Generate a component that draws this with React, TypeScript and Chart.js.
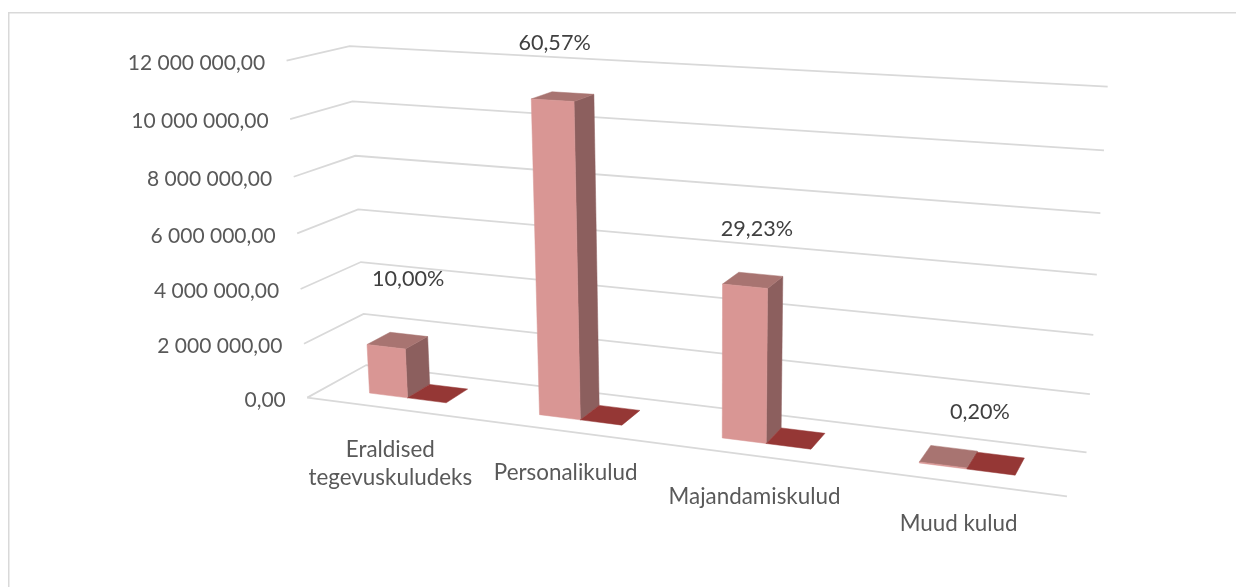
import React, { useEffect, useRef } from "react";
import { Chart, registerables } from "chart.js";

Chart.register(...registerables);

// ---- data ----
const categories: (string | string[])[] = [
  ["Eraldised", "tegevuskuludeks"],
  "Personalikulud",
  "Majandamiskulud",
  "Muud kulud",
];
const amounts = [1816000, 11000000, 5308000, 36000];
const shares = [0.1, 0.6057, 0.2923, 0.002];
const valueMax = 12000000;
const valueStep = 2000000;

// ---- view of the 3D box: [u, v, depth, screenX, screenY] ----
const viewAnchors = [
  [0, 0, 0, 307, 398],
  [0, 0.5, 0, 297, 231],
  [0, 1, 0, 287, 62],
  [0, 0, 1, 367, 366],
  [0, 0.5, 1, 358, 209],
  [0, 1, 1, 349, 46],
  [1, 0, 1, 1086, 452],
  [1, 0.5, 1, 1097, 274],
  [1, 1, 1, 1108, 87],
  [1, 0, 0, 1067, 497],
];
const barDepth = [0.3, 0.7];
const shareLabelShift = [
  [22, -68],
  [2, -57],
  [12, -57],
  [37, -53],
];

const FONT = "Lato, Carlito, sans-serif";
const GRID = "#d9d9d9";

function solve(A: number[][], b: number[]) {
  const n = b.length;
  const M = A.map((r, i) => [...r, b[i]]);
  for (let c = 0; c < n; c++) {
    let p = c;
    for (let r = c + 1; r < n; r++) if (Math.abs(M[r][c]) > Math.abs(M[p][c])) p = r;
    [M[c], M[p]] = [M[p], M[c]];
    for (let r = 0; r < n; r++) {
      if (r === c) continue;
      const f = M[r][c] / M[c][c];
      for (let k = c; k <= n; k++) M[r][k] -= f * M[c][k];
    }
  }
  return M.map((r, i) => r[n] / r[i]);
}

function fitView() {
  const rows: number[][] = [];
  const rhs: number[] = [];
  for (const [u, v, d, sx, sy] of viewAnchors) {
    const X = sx / 1000;
    const Y = sy / 1000;
    rows.push([u, v, d, 1, 0, 0, 0, 0, -X * u, -X * v, -X * d]);
    rhs.push(X);
    rows.push([0, 0, 0, 0, u, v, d, 1, -Y * u, -Y * v, -Y * d]);
    rhs.push(Y);
  }
  const N = 11;
  const AtA = Array.from({ length: N }, (_, i) =>
    Array.from({ length: N }, (_, j) => rows.reduce((s, r) => s + r[i] * r[j], 0))
  );
  const Atb = Array.from({ length: N }, (_, i) => rows.reduce((s, r, k) => s + r[i] * rhs[k], 0));
  return solve(AtA, Atb);
}
const P = fitView();
function project(u: number, v: number, d: number): [number, number] {
  const w = P[8] * u + P[9] * v + P[10] * d + 1;
  return [
    (1000 * (P[0] * u + P[1] * v + P[2] * d + P[3])) / w,
    (1000 * (P[4] * u + P[5] * v + P[6] * d + P[7])) / w,
  ];
}

function face(ctx: CanvasRenderingContext2D, pts: [number, number][], color: string) {
  ctx.beginPath();
  pts.forEach((p, i) => (i ? ctx.lineTo(p[0], p[1]) : ctx.moveTo(p[0], p[1])));
  ctx.closePath();
  ctx.fillStyle = color;
  ctx.strokeStyle = color;
  ctx.lineWidth = 0.5;
  ctx.fill();
  ctx.stroke();
}

function percentText(x: number) {
  return (x * 100).toFixed(2).replace(".", ",") + "%";
}

const box3d = {
  id: "box3d",
  beforeDatasetsDraw(chart: any) {
    const { ctx, chartArea: a, scales } = chart;
    const uOf = (px: number) => (px - a.left) / (a.right - a.left);
    const vOf = (py: number) => (a.bottom - py) / (a.bottom - a.top);

    // outer frame
    ctx.save();
    ctx.strokeStyle = GRID;
    ctx.lineWidth = 1.5;
    ctx.beginPath();
    ctx.moveTo(8.75, 587);
    ctx.lineTo(8.75, 12.75);
    ctx.lineTo(1236, 12.75);
    ctx.stroke();

    // value grid and value labels
    ctx.font = `21px ${FONT}`;
    ctx.textAlign = "right";
    ctx.textBaseline = "middle";
    ctx.lineWidth = 1.8;
    for (const tick of scales.y.ticks) {
      const v = vOf(scales.y.getPixelForValue(tick.value));
      const f = project(0, v, 0);
      const b = project(0, v, 1);
      const r = project(1, v, 1);
      ctx.strokeStyle = GRID;
      ctx.beginPath();
      ctx.moveTo(f[0], f[1]);
      ctx.lineTo(b[0], b[1]);
      ctx.lineTo(r[0], r[1]);
      ctx.stroke();
      ctx.fillStyle = "#595959";
      ctx.fillText(tick.label, f[0] - 21.5, f[1] + 2.5);
    }
    // floor front edge
    const fl = project(0, 0, 0);
    const fr = project(1, 0, 0);
    ctx.beginPath();
    ctx.moveTo(fl[0], fl[1]);
    ctx.lineTo(fr[0], fr[1]);
    ctx.stroke();

    // category labels
    ctx.font = `22.4px ${FONT}`;
    ctx.textAlign = "center";
    scales.x.ticks.forEach((tick: any, i: number) => {
      const c = project(uOf(scales.x.getPixelForTick(i)), 0, 0);
      const lines = Array.isArray(tick.label) ? tick.label : [tick.label];
      lines.forEach((t: string, k: number) => ctx.fillText(t, c[0], c[1] + 41.5 + k * 28));
    });
    ctx.restore();
  },
  beforeDatasetDraw() {
    return false; // the bars are drawn as boxes below
  },
  afterDatasetsDraw(chart: any) {
    const { ctx, chartArea: a } = chart;
    const uOf = (px: number) => (px - a.left) / (a.right - a.left);
    const vOf = (py: number) => (a.bottom - py) / (a.bottom - a.top);
    const [d0, d1] = barDepth;
    const main = chart.getDatasetMeta(0).data;
    const thin = chart.getDatasetMeta(1).data;
    ctx.save();
    main.forEach((bar: any, i: number) => {
      const u0 = uOf(bar.x - bar.width / 2);
      const u1 = uOf(bar.x + bar.width / 2);
      const v = vOf(bar.y);
      face(ctx, [project(u1, 0, d0), project(u1, 0, d1), project(u1, v, d1), project(u1, v, d0)], "#8c5f5e");
      face(ctx, [project(u0, v, d0), project(u1, v, d0), project(u1, v, d1), project(u0, v, d1)], "#a87471");
      face(ctx, [project(u0, 0, d0), project(u1, 0, d0), project(u1, v, d0), project(u0, v, d0)], "#d99694");

      const t = thin[i];
      const t0 = uOf(t.x - t.width / 2);
      const t1 = uOf(t.x + t.width / 2);
      const tv = vOf(t.y);
      face(ctx, [project(t0, tv, d0), project(t1, tv, d0), project(t1, tv, d1), project(t0, tv, d1)], "#953735");

      const top = project((u0 + u1) / 2, v, d0);
      ctx.font = `21.6px ${FONT}`;
      ctx.textAlign = "center";
      ctx.textBaseline = "middle";
      ctx.fillStyle = "#404040";
      ctx.fillText(percentText(shares[i]), top[0] + shareLabelShift[i][0], top[1] + shareLabelShift[i][1]);
    });
    ctx.restore();
  },
};

export default function App() {
  const ref = useRef<HTMLCanvasElement>(null);
  useEffect(() => {
    document.body.style.margin = "0";
    document.body.style.background = "#fff";
    const chart = new Chart(ref.current!, {
      type: "bar",
      data: {
        labels: categories as any,
        datasets: [
          { label: "Summa", data: amounts, backgroundColor: "#d99694" },
          { label: "Osakaal", data: shares, backgroundColor: "#953735" },
        ],
      },
      options: {
        animation: false,
        responsive: false,
        layout: { padding: 0 },
        plugins: { legend: { display: false }, tooltip: { enabled: false } },
        datasets: { bar: { categoryPercentage: 0.46, barPercentage: 1 } },
        scales: {
          x: { display: false },
          y: {
            display: false,
            min: 0,
            max: valueMax,
            ticks: {
              stepSize: valueStep,
              callback: (v: any) =>
                Number(v).toLocaleString("en-US", { minimumFractionDigits: 2 }).replace(/,/g, " ").replace(".", ","),
            },
          },
        },
      } as any,
      plugins: [box3d as any],
    });
    return () => chart.destroy();
  }, []);
  return <canvas ref={ref} width={1236} height={587} style={{ display: "block" }} />;
}
